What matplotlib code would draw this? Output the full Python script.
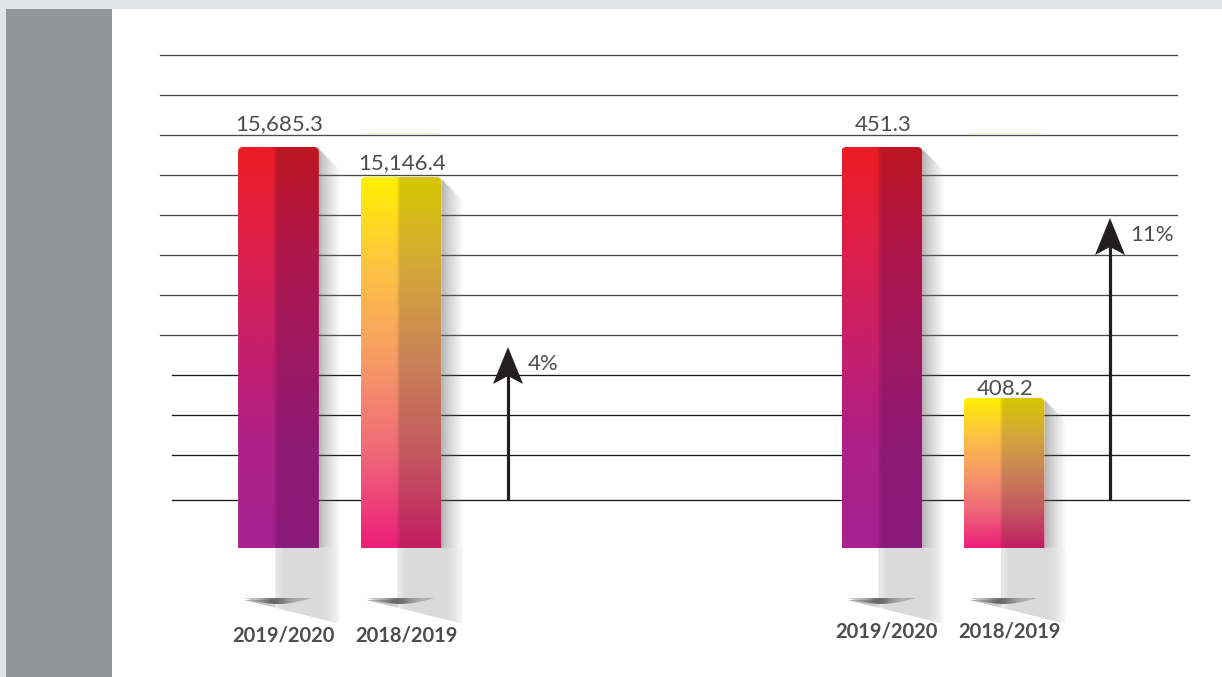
import numpy as np
import matplotlib
matplotlib.use("Agg")
import matplotlib.pyplot as plt
from matplotlib.patches import Rectangle, Polygon, FancyBboxPatch
from matplotlib.colors import to_rgb

# data
years = ["2019/2020", "2018/2019"]
group_a = [15685.3, 15146.4]
group_b = [451.3, 408.2]
growth = ["4%", "11%"]

W, H = 1222, 677
fig = plt.figure(figsize=(W / 100, H / 100), dpi=100, facecolor="white")
bg = fig.add_axes([0, 0, 1, 1])
bg.set_axis_off()
bg.set_xlim(0, W)
bg.set_ylim(H, 0)

TXT = "#4D4D4F"
FONT = ["Lato", "DejaVu Sans"]

# frame
bg.add_patch(Rectangle((0, 0), W, 9, fc="#E1E5E8", ec="none", zorder=0))
bg.add_patch(Rectangle((0, 0), 6, H, fc="#E1E5E8", ec="none", zorder=0))
bg.add_patch(Rectangle((6, 9), 106, H - 9, fc="#939598", ec="none", zorder=0))

# ruled lines
for y in [55, 95, 135, 175, 215, 255, 295, 335]:
    bg.plot([160, 1177], [y, y], color="#4a4a4a", lw=0.95, zorder=1)
for y in [375, 415, 455, 500]:
    bg.plot([172, 1189], [y, y], color="#1a1a1a", lw=0.95, zorder=1)


def px_axes(x0, y0, x1, y1):
    return fig.add_axes([x0 / W, 1 - y1 / H, (x1 - x0) / W, (y1 - y0) / H])


def ramp(stops, n=256):
    t = np.linspace(0, 1, n)
    pos = np.linspace(0, 1, len(stops))
    cols = np.array([to_rgb(c) for c in stops])
    return np.stack([np.interp(t, pos, cols[:, k]) for k in range(3)], axis=1)


def bar_image(light, dark, m=120, split=0.46):
    lc, dc = ramp(light), ramp(dark)
    u = np.linspace(0, 1, m)
    s = np.clip((u - split) / 0.05 + 0.5, 0, 1)
    return lc[:, None, :] * (1 - s)[None, :, None] + dc[:, None, :] * s[None, :, None]


red_light = ["#ED1C24", "#DC1F4A", "#C61F6B", "#AD2088", "#A6218F"]
red_dark = ["#BE1622", "#AE174A", "#9F1860", "#8E1A74", "#8A1A78"]
yel_light = ["#FFF100", "#FDC343", "#F79A67", "#EF6879", "#EC1E79"]
yel_dark = ["#D6C700", "#D3A83A", "#C98158", "#C3585F", "#C11D62"]
bar_fills = [(red_light, red_dark), (yel_light, yel_dark)]


def shadow(L, R, T, B, S, lens_y=600, bot=624):
    right = R + 22
    poly = Polygon([(S, B), (R, B), (R, T + 2), (right, T + 24), (right, bot),
                    (L + 6, lens_y), (S, lens_y)], closed=True,
                   fc="none", ec="none", transform=bg.transData)
    bg.add_patch(poly)
    xs = np.linspace(L, right, 240)
    ys = np.linspace(T, bot, 300)
    X, Y = np.meshgrid(xs, ys)
    v = np.full(X.shape, 0.855)
    tri = X < S
    v[tri] = 0.62 + 0.22 * ((X[tri] - L) / (S - L))
    edge = (X >= S) & (X < S + 8)
    v[edge] = 0.92 - 0.065 * (X[edge] - S) / 8
    side = X > R
    t = (X[side] - R) / 22
    above = Y[side] < B
    v[side] = np.where(above, 0.70 + 0.30 * t ** 0.8, 0.855 + 0.14 * t ** 2)
    img = np.zeros(X.shape + (4,))
    img[..., :3] = 0.42
    img[..., 3] = np.clip((1 - v) / 0.58, 0, 1)
    bg.imshow(img, extent=(L, right, bot, T), origin="upper", aspect="auto",
              clip_path=poly, zorder=2, interpolation="bilinear")
    # lens-shaped reflection
    x0, x1 = L + 6, R - 7
    tt = np.linspace(0, 1, 60)
    top = [(x0 + (x1 - x0) * a, lens_y - 2) for a in tt]
    low = [(x0 + (x1 - x0) * a, lens_y - 2 + 6 * np.sin(np.pi * a)) for a in tt[::-1]]
    lens = Polygon(top + low, closed=True, fc="none", ec="none", transform=bg.transData)
    bg.add_patch(lens)
    u = np.linspace(0, 1, 200)
    la = np.zeros((2, 200, 4))
    la[..., :3] = 0.30
    la[..., 3] = 0.30 + 0.5 * np.exp(-((u - 0.45) / 0.2) ** 2)
    bg.imshow(la, extent=(x0, x1, lens_y + 5, lens_y - 2), origin="upper", aspect="auto",
              clip_path=lens, zorder=2.5, interpolation="bilinear")


def draw_group(values, box, ylim, pads, label_drop):
    ax = px_axes(*box)
    ax.set_axis_off()
    ax.set_xlim(-0.5, 1.5)
    ax.set_ylim(*ylim)
    base = ylim[0]
    bars = ax.bar(range(len(values)), [v - base for v in values], bottom=base,
                  width=0.66, color="none")
    for i, p in enumerate(bars.patches):
        pts = ax.transData.transform([(p.get_x(), p.get_y()),
                                      (p.get_x() + p.get_width(), p.get_y() + p.get_height())])
        (L, B), (R, T) = bg.transData.inverted().transform(pts)
        S = L + 0.46 * (R - L)
        shadow(L, R, T, B, S)
        clip = FancyBboxPatch((L, T), R - L, B - T + 10,
                              boxstyle="round,pad=0,rounding_size=5",
                              fc="none", ec="none", transform=bg.transData)
        bg.add_patch(clip)
        bg.imshow(bar_image(*bar_fills[i]), extent=(L, R, B, T), origin="upper",
                  aspect="auto", clip_path=clip, zorder=3, interpolation="bilinear")
        if i == 1:
            bg.plot([L + 4, R - 4], [133, 133], color="#FBF6CF", lw=0.7, zorder=1.5)
        cx = (L + R) / 2
        bg.text(cx + 1, T - pads[i], f"{values[i]:,.1f}", ha="center", va="baseline",
                fontsize=16, fontweight="normal", family=FONT, color=TXT, zorder=4)
        bg.text(cx + 5, B + label_drop, years[i], ha="center", va="center",
                fontsize=14.5, fontweight="bold", family=FONT, color=TXT, zorder=4)


def arrow(x, tip, label, base=500):
    bg.plot([x, x], [base, tip + 28], color="#231F20", lw=2.3,
            solid_capstyle="butt", zorder=3)
    bg.add_patch(Polygon([(x, tip), (x + 15, tip + 37), (x, tip + 29), (x - 15, tip + 37)],
                         closed=True, fc="#231F20", ec="none", zorder=3))
    bg.text(x + 20, tip + 17, label, ha="left", va="center", fontsize=16,
            fontweight="normal", family=FONT, color=TXT, zorder=4)


draw_group(group_a, (217.25, 147, 462.25, 548), (8482, 15685.3), [17, 8], 88)
draw_group(group_b, (820.75, 147, 1065.25, 548), (382.4, 451.3), [16, 3], 83)

arrow(508, 347, growth[0])
arrow(1110, 218, growth[1])

bg.set_xlim(0, W)
bg.set_ylim(H, 0)
fig.savefig("out.png", dpi=100)
